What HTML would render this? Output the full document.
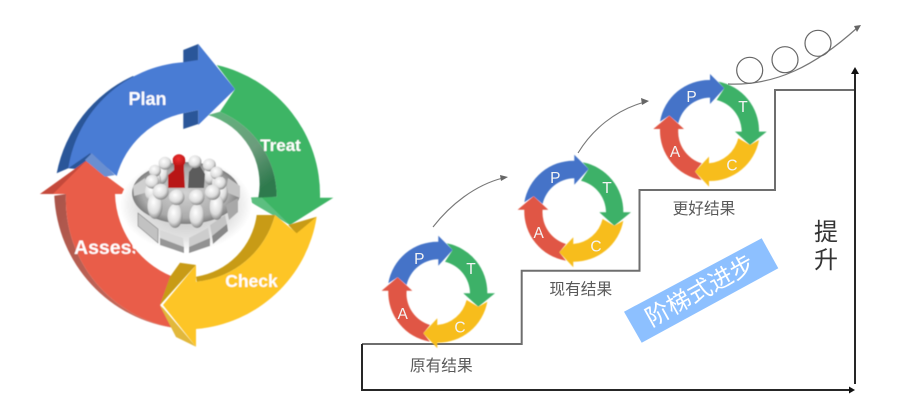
<!DOCTYPE html>
<html><head><meta charset="utf-8"><style>
html,body{margin:0;padding:0;background:#fff}
svg{display:block}
text{font-family:"Liberation Sans","Noto Sans CJK SC",sans-serif}
</style></head><body>
<svg width="899" height="406" viewBox="0 0 899 406" xmlns="http://www.w3.org/2000/svg">
<defs>
<linearGradient id="gb" x1="0" y1="0" x2="0.6" y2="1"><stop offset="0" stop-color="#5fb67c"/><stop offset=".6" stop-color="#6c9c7c"/><stop offset="1" stop-color="#2f7a4e"/></linearGradient>
<linearGradient id="rb" x1="0" y1="0" x2="1" y2="1"><stop offset="0" stop-color="#a9544a"/><stop offset="1" stop-color="#d0705f"/></linearGradient>
<radialGradient id="h" cx=".4" cy=".35" r=".72"><stop offset="0" stop-color="#fff"/><stop offset=".6" stop-color="#dcdcdc"/><stop offset="1" stop-color="#6f6f6f"/></radialGradient>
<radialGradient id="hr" cx=".45" cy=".35" r=".7"><stop offset="0" stop-color="#f03030"/><stop offset="1" stop-color="#b01010"/></radialGradient>
<radialGradient id="disc" cx=".5" cy=".5" r=".5"><stop offset="0" stop-color="#d2d2d2"/><stop offset=".8" stop-color="#aaaaaa"/><stop offset="1" stop-color="#7d7d7d"/></radialGradient>
<radialGradient id="sh" cx=".5" cy=".5" r=".5"><stop offset="0" stop-color="#bbb"/><stop offset=".75" stop-color="#e4e4e4"/><stop offset="1" stop-color="#fff"/></radialGradient>
<filter id="b"><feGaussianBlur stdDeviation=".5"/></filter>
<filter id="b2"><feGaussianBlur stdDeviation=".6"/></filter>
<clipPath id="ac"><rect x="60" y="225" width="75" height="40"/></clipPath>
</defs>

<g filter="url(#b)">
<!-- blue -->
<path d="M56.7 173.3A135 135 0 0 1 133 76L150 90L85 170L68.3 168.3Z" fill="#2c5699"/>
<path d="M183.3 50L198.3 44V61L183.3 63ZM183.3 113.3L198.3 110V124L183.3 129Z" fill="#2c5699"/>
<path d="M68.3 168.3A125 125 0 0 1 183.3 62.3L198.3 60L198.3 44L235 89.3L198.3 125L198.3 110L183.3 113.3A88 88 0 0 0 116.7 176L90 153.3Z" fill="#4a7bd4"/>
<!-- green -->
<path d="M216.7 65A133 133 0 0 1 320 197.7L333.3 197.7L290 225L243.3 197.7L276.7 196.7A92 92 0 0 0 220 111.7L235 89.3Z" fill="#3eb565"/>
<path d="M208.3 115L220 111.7A92 92 0 0 1 276.7 196.7L258.3 197.7A72 72 0 0 0 208.3 115Z" fill="url(#gb)"/>
<path d="M243.3 197.7L262 197.7L290 225Z" fill="#5cbf80"/>
<!-- red -->
<path d="M54.3 195.7A140 140 0 0 0 176.7 328.3A130 130 0 0 1 66 194Z" fill="url(#rb)"/>
<path d="M66 194A130 130 0 0 0 176.7 328.3L160 305L179 279A92 92 0 0 1 115 194L130.7 194L86 161L40 194Z" fill="#e95d4a"/>
<path d="M40 194L86 161L53 194Z" fill="#c54a3a"/>
<path d="M85 160L91.7 153.3L115 175L105 176.7Z" fill="#6a8fd0"/>
<!-- yellow -->
<path d="M256.7 215L275 215A90 90 0 0 1 196.7 281.7L196 276.7A72 72 0 0 0 256.7 215Z" fill="#c89b14"/>
<path d="M288.3 225L296.7 234L316.7 216.7Z" fill="#c89b14"/>
<path d="M180 262.7L196 265L160 305L170 276.7Z" fill="#c89b14"/>
<path d="M160 305.7L163 308L196 346.7L176 337Z" fill="#e2b83a"/>
<path d="M316.7 216.7A133 133 0 0 1 196 329L196 346.7L163 305L196 265L196 281.7A90 90 0 0 0 275 215L296.7 233.3Z" fill="#fdc526"/>
<text x="147.5" y="105" fill="#fff" font-size="18" font-weight="700" text-anchor="middle">Plan</text>
<text x="280.5" y="151" fill="#fff" font-size="17" font-weight="700" text-anchor="middle">Treat</text>
<text x="251.5" y="287" fill="#fff" font-size="17.5" font-weight="700" text-anchor="middle">Check</text>
<text x="74" y="254" fill="#fff" font-size="19.5" font-weight="700" clip-path="url(#ac)">Assess</text>
</g>

<!-- meeting group -->
<g filter="url(#b2)">
<ellipse cx="186" cy="205" rx="66" ry="46" fill="url(#sh)"/>
<ellipse cx="186" cy="193" rx="54" ry="31" fill="url(#disc)"/>
<path d="M133 186L145 178L148 192L134 196Z" fill="#cfcfcf"/>
<path d="M240 186L228 178L226 192L240 198Z" fill="#c4c4c4"/>
<path d="M138 213L158 229L158 243L138 226Z" fill="#c2c2c2" stroke="#7c7c7c" stroke-width=".6"/>
<path d="M160 230L183 238L184 247L160 238Z" fill="#d8d8d8"/>
<path d="M160 238L184 247V253L160 245Z" fill="#979797"/>
<path d="M189 238L208 228L210 238L189 247Z" fill="#cdcdcd"/>
<path d="M189 247L210 238V246L189 253Z" fill="#929292"/>
<path d="M210 225L225 215L227 224L212 236Z" fill="#c4c4c4"/>
<path d="M212 236L227 224L228 231L213 244Z" fill="#888"/>
<path d="M226 205L238 198L238 212L229 220Z" fill="#a8a8a8"/>
<g fill="url(#h)">
<ellipse cx="162" cy="174" rx="6" ry="10"/><ellipse cx="155" cy="181" rx="6" ry="10"/><ellipse cx="152" cy="192" rx="7" ry="10"/>
<ellipse cx="210" cy="175" rx="6" ry="10"/><ellipse cx="218" cy="183" rx="6" ry="10"/><ellipse cx="221" cy="193" rx="7" ry="11"/>
<circle cx="165" cy="163.3" r="6.5"/><circle cx="155" cy="170.7" r="6"/><circle cx="152.3" cy="181.7" r="7"/>
<circle cx="209.3" cy="165" r="6.5"/><circle cx="216.7" cy="173" r="6.5"/><circle cx="220" cy="183.3" r="6.5"/>
</g>
<path d="M188 188L189 172L194 166H200L205 174L204 188Z" fill="#5c5c5c"/>
<circle cx="195" cy="161.7" r="6.5" fill="url(#h)"/>
<path d="M168 188V175L174 170V165H184V170L185 188Z" fill="#b81414"/>
<circle cx="179" cy="160.7" r="6.5" fill="url(#hr)"/>
<g fill="url(#h)">
<ellipse cx="155" cy="206" rx="7.5" ry="13"/><ellipse cx="175" cy="216" rx="7.5" ry="12"/><ellipse cx="197" cy="216" rx="7.5" ry="12"/><ellipse cx="216.7" cy="207" rx="7" ry="13"/>
<circle cx="160.7" cy="191.7" r="8"/><circle cx="176.7" cy="197.3" r="7.8"/><circle cx="196.7" cy="197.3" r="7.8"/><circle cx="212.7" cy="192.3" r="7.7"/>
</g>
</g>

<!-- staircase -->
<g fill="none">
<path d="M362 344H521.7V270.7H639.5V190H775V90H855" stroke="#6e6e6e" stroke-width="2"/>
<path d="M362 344V390H850" stroke="#262626" stroke-width="2"/>
<path d="M855 384V72" stroke="#262626" stroke-width="2"/>
<path d="M433 227C450 205 475 185 503 178" stroke="#777" stroke-width="1.1"/>
<path d="M578 153C592 130 615 110 645 102" stroke="#777" stroke-width="1.1"/>
<path d="M728 84C775 86 815 66 857 28" stroke="#777" stroke-width="1.2"/>
<circle cx="749.7" cy="70.3" r="13" stroke="#666" stroke-width="1.2"/>
<circle cx="785" cy="59.7" r="13" stroke="#666" stroke-width="1.2"/>
<circle cx="818" cy="43.3" r="13" stroke="#666" stroke-width="1.2"/>
</g>
<path d="M851 74L855 67L859 74Z" fill="#111"/>
<path d="M849 386.5L855 390L849 393.5Z" fill="#111"/>
<path d="M500 175L508 177L501 181Z" fill="#666"/>
<path d="M641 98L649 101L642 105Z" fill="#666"/>
<path d="M854 26L861 25L857 32Z" fill="#666"/>

<!-- ring 1 -->
<g transform="translate(438.3 290)" filter="url(#b)">
<path d="M-50 -6.7A50 50 0 0 1 0 -48.3L0 -54.3L14.3 -40L0 -24.3L0 -30.7A33 33 0 0 0 -31.7 -5L-40.7 -12.7Z" fill="#4473c8"/>
<path d="M8.3 -46.7A50 50 0 0 1 49 3.3L56.7 3.3L40 16.7L25 3.3L31.7 3.3A33 33 0 0 0 6.7 -28.3L14.3 -40Z" fill="#3cb167"/>
<path d="M49 11.7A50 50 0 0 1 -1 52.7L-1 58.3L-15 43.3L-1 28.3L-1 35A33 33 0 0 0 28.3 10L40 16.7Z" fill="#f7bd1f"/>
<path d="M-8.3 51.7A50 50 0 0 1 -50 .7L-56.7 .7L-40.7 -12.7L-26 .7L-31.7 .7A33 33 0 0 0 -8.3 35L-15 43.3Z" fill="#e05745"/>
</g>
<g fill="#f4f4f4" font-size="15.5" text-anchor="middle">
<text x="419.3" y="264">P</text><text x="471" y="274">T</text><text x="460" y="332.5">C</text><text x="402.7" y="319">A</text>
</g>
<!-- ring 2 -->
<g transform="translate(574.3 209)" filter="url(#b)">
<path d="M-50 -6.7A50 50 0 0 1 0 -48.3L0 -54.3L14.3 -40L0 -24.3L0 -30.7A33 33 0 0 0 -31.7 -5L-40.7 -12.7Z" fill="#4473c8"/>
<path d="M8.3 -46.7A50 50 0 0 1 49 3.3L56.7 3.3L40 16.7L25 3.3L31.7 3.3A33 33 0 0 0 6.7 -28.3L14.3 -40Z" fill="#3cb167"/>
<path d="M49 11.7A50 50 0 0 1 -1 52.7L-1 58.3L-15 43.3L-1 28.3L-1 35A33 33 0 0 0 28.3 10L40 16.7Z" fill="#f7bd1f"/>
<path d="M-8.3 51.7A50 50 0 0 1 -50 .7L-56.7 .7L-40.7 -12.7L-26 .7L-31.7 .7A33 33 0 0 0 -8.3 35L-15 43.3Z" fill="#e05745"/>
</g>
<g fill="#f4f4f4" font-size="15.5" text-anchor="middle">
<text x="555.3" y="183">P</text><text x="607" y="193">T</text><text x="596" y="251.5">C</text><text x="538.7" y="238">A</text>
</g>
<!-- ring 3 -->
<g transform="translate(710 128.3)" filter="url(#b)">
<path d="M-50 -6.7A50 50 0 0 1 0 -48.3L0 -54.3L14.3 -40L0 -24.3L0 -30.7A33 33 0 0 0 -31.7 -5L-40.7 -12.7Z" fill="#4473c8"/>
<path d="M8.3 -46.7A50 50 0 0 1 49 3.3L56.7 3.3L40 16.7L25 3.3L31.7 3.3A33 33 0 0 0 6.7 -28.3L14.3 -40Z" fill="#3cb167"/>
<path d="M49 11.7A50 50 0 0 1 -1 52.7L-1 58.3L-15 43.3L-1 28.3L-1 35A33 33 0 0 0 28.3 10L40 16.7Z" fill="#f7bd1f"/>
<path d="M-8.3 51.7A50 50 0 0 1 -50 .7L-56.7 .7L-40.7 -12.7L-26 .7L-31.7 .7A33 33 0 0 0 -8.3 35L-15 43.3Z" fill="#e05745"/>
</g>
<g fill="#f4f4f4" font-size="15.5" text-anchor="middle">
<text x="691.5" y="102">P</text><text x="743" y="112">T</text><text x="732" y="170.5">C</text><text x="675" y="157">A</text>
</g>

<!-- labels -->
<g fill="#595959" font-size="15.7" text-anchor="middle">
<text x="441.3" y="371">原有结果</text>
<text x="580.8" y="294.5">现有结果</text>
<text x="704" y="214">更好结果</text>
</g>
<path d="M624 311.7L761.7 238.3L778.3 268.3L641.7 342.7Z" fill="#8dc0ff"/>
<text x="700" y="299" fill="#fff" font-size="24" text-anchor="middle" transform="rotate(-29 700 291)">阶梯式进步</text>
<g fill="#333" font-size="24" text-anchor="middle">
<text x="826" y="240">提</text><text x="826" y="268">升</text>
</g>
</svg>
</body></html>
